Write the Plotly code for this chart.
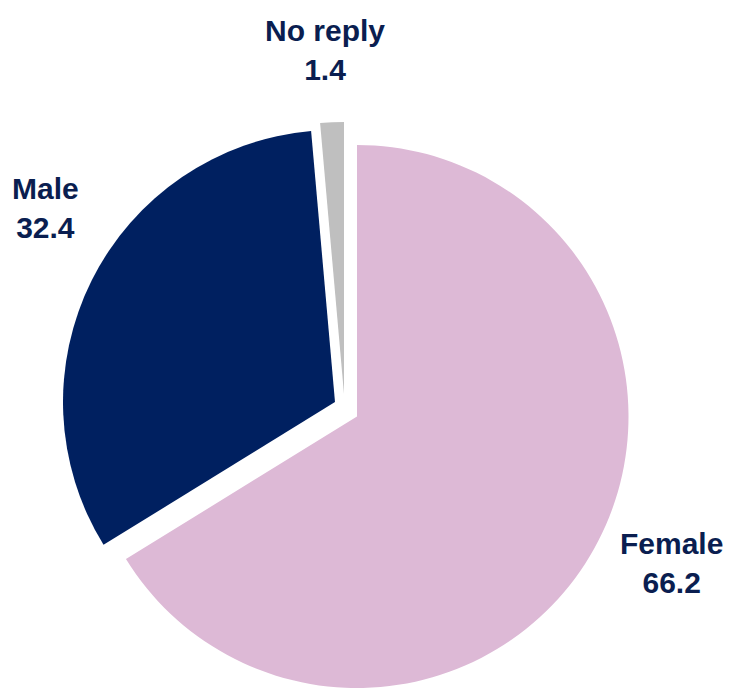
import plotly.graph_objects as go

labels = ["Female", "Male", "No reply"]
values = [66.2, 32.4, 1.4]
colors = ["#DDB9D6", "#002060", "#BFBFBF"]

OFF = 8  # page body margin
W, H = 736 - OFF, 688 - OFF
R = 272
# screen-pixel centres of each slice (male and no reply are pulled out)
centres = {"Female": (357, 417), "Male": (335, 402), "No reply": (344, 394)}

fig = go.Figure()
for i, name in enumerate(labels):
    cx, cy = centres[name]
    cx, cy = cx - OFF, cy - OFF
    cols = [c if j == i else "rgba(0,0,0,0)" for j, c in enumerate(colors)]
    fig.add_trace(go.Pie(
        labels=labels,
        values=values,
        sort=False,
        direction="clockwise",
        rotation=0,
        marker=dict(colors=cols, line=dict(width=0)),
        textinfo="none",
        hoverinfo="label+value",
        showlegend=False,
        domain=dict(x=[(cx - R) / W, (cx + R) / W],
                    y=[max(0, (H - cy - R) / H), (H - cy + R) / H]),
    ))

# label centres in screen pixels
label_pos = {"Female": (671, 563), "Male": (45, 208), "No reply": (325, 50)}
for name, v in zip(labels, values):
    px, py = label_pos[name]
    fig.add_annotation(
        x=(px - OFF) / W, y=1 - (py - OFF) / H, xref="paper", yref="paper",
        xanchor="center", yanchor="middle",
        text=f"<b>{name}<br>{v}</b>", showarrow=False,
        font=dict(family="Liberation Sans, Arial", size=30, color="#0A1E50"),
        align="center",
    )

fig.update_layout(
    width=W, height=H,
    margin=dict(l=0, r=0, t=0, b=0),
    paper_bgcolor="white", plot_bgcolor="white",
)
fig.write_html("out.html")
